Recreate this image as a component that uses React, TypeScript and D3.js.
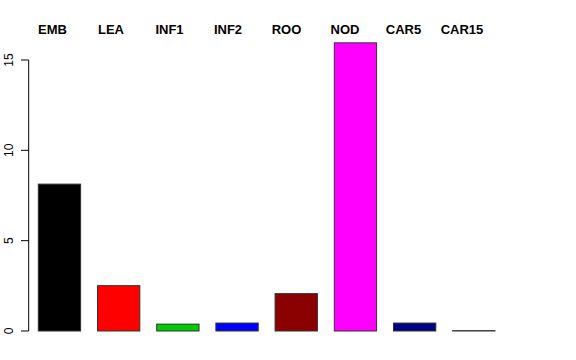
import React from "react";
import * as d3 from "d3";

const categories = ["EMB", "LEA", "INF1", "INF2", "ROO", "NOD", "CAR5", "CAR15"];
const values = [8.13, 2.51, 0.38, 0.44, 2.07, 15.95, 0.44, 0.02];
const colors = ["#000000", "#FF0000", "#00CD00", "#0000FF", "#8B0000", "#FF00FF", "#000080", "#555555"];
const yTicks = [0, 5, 10, 15];

export default function App() {
  const W = 576, H = 360;
  const y = d3.scaleLinear().domain([0, 15]).range([331, 60]);
  const x = d3.scaleBand<string>().domain(categories).range([38.3, 495]).paddingInner(0.285).paddingOuter(0);
  const lx = d3.scalePoint<string>().domain(categories).range([52.5, 462]);
  const font = "'Liberation Sans', Arial, Helvetica, sans-serif";
  return (
    <svg width={W} height={H} style={{ position: "absolute", left: 0, top: 0, background: "#fff" }} fontFamily={font}>
      <rect x={0} y={0} width={W} height={H} fill="#fff" />
      {categories.map((c, i) => (
        <rect key={c} x={x(c)} y={y(values[i])} width={x.bandwidth()} height={y(0) - y(values[i])}
          fill={colors[i]} stroke="#333" strokeWidth={1} />
      ))}
      <line x1={28.7} x2={28.7} y1={y(15)} y2={y(0)} stroke="#000" strokeWidth={1} />
      {yTicks.map(t => (
        <g key={t}>
          <line x1={21} x2={28.7} y1={y(t)} y2={y(t)} stroke="#000" strokeWidth={1} />
          <text transform={`translate(13,${y(t)}) rotate(-90)`} textAnchor="middle" fontSize={12} fill="#000">{t}</text>
        </g>
      ))}
      {categories.map(c => (
        <text key={c} x={lx(c)} y={34} textAnchor="middle" fontSize={13} fontWeight="bold" fill="#000">{c}</text>
      ))}
    </svg>
  );
}
